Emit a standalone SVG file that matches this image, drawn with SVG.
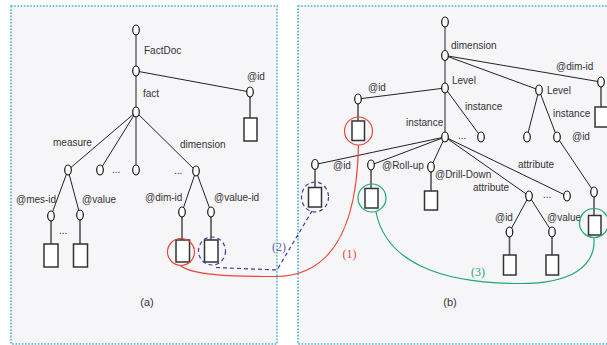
<svg xmlns="http://www.w3.org/2000/svg" width="607" height="345" viewBox="0 0 607 345">
<style>
.panel{fill:#f6f6f9;stroke:#4aaed6;stroke-width:1.6;stroke-dasharray:1.6 1.6}
.n{fill:#fff;stroke:#111;stroke-width:1.2}
.e{stroke:#222;stroke-width:1;fill:none}
.s{stroke:#555;stroke-width:1.6;fill:none}
.leaf{fill:#fff;stroke:#333;stroke-width:1.5}
.t{font-family:"Liberation Sans","Open Sans",sans-serif;font-size:10px;fill:#333}
.cap{font-family:"Liberation Sans","Open Sans",sans-serif;font-size:11px;fill:#333;text-anchor:middle}
.num{font-family:"Liberation Serif","DejaVu Serif",serif;font-size:12px;text-anchor:middle}
.red{stroke:#e8453c;stroke-width:1.2;fill:none}
.grn{stroke:#1fa874;stroke-width:1.2;fill:none}
.blu{stroke:#3c3c9e;stroke-width:1.2;fill:none;stroke-dasharray:4 3}
</style>
<rect class="panel" x="11" y="6" width="266" height="338"/>
<rect class="panel" x="298" y="6" width="320" height="338"/>

<g id="edges">
<path class="e" d="M136,30V71M136,71V112M136,71L250,92M136,112L68,170M136,112L100,170M136,112V170M136,112L196,171M68,170L51,216M68,170L80,215M196,171L182,212M196,171L211,212"/>
<path class="s" d="M250,97V118M51,221V244M80,220V244M182,217V240M211,217V240"/>
<path class="e" d="M445,22V55.5M445,55.5V88M445,88V137M445,55.5L539,90M445,55.5L601,82M445,88L358,99M445,88L481,137M539,90L527,137M539,90L557,137M557,137L594,192M445,137L315,164.5M445,137L371,165M445,137L431,167M445,137L529,196M445,137L567,196M529,196L509.5,232M529,196L552,232"/>
<path class="s" d="M601,87V107M358,104V121M315,169.5V187.5M371,170V188.5M431,172V191M594,197V215.5M509.5,237V255M552,237V255"/>
</g>

<g id="labels">
<text class="t" x="144" y="54">FactDoc</text>
<text class="t" x="247" y="80">@id</text>
<text class="t" x="143" y="97">fact</text>
<text class="t" x="53" y="146">measure</text>
<text class="t" x="180" y="148">dimension</text>
<text class="t" x="112" y="173">...</text>
<text class="t" x="174" y="174">...</text>
<text class="t" x="16" y="203">@mes-id</text>
<text class="t" x="82" y="203">@value</text>
<text class="t" x="59" y="234">...</text>
<text class="t" x="145" y="201">@dim-id</text>
<text class="t" x="214" y="201">@value-id</text>
<text class="t" x="451" y="49">dimension</text>
<text class="t" x="556" y="70">@dim-id</text>
<text class="t" x="452" y="84">Level</text>
<text class="t" x="547" y="94">Level</text>
<text class="t" x="368" y="91">@id</text>
<text class="t" x="465" y="110">instance</text>
<text class="t" x="553" y="117">instance</text>
<text class="t" x="406" y="126">instance</text>
<text class="t" x="572" y="140">@id</text>
<text class="t" x="458" y="139">...</text>
<text class="t" x="333" y="169">@id</text>
<text class="t" x="382" y="169">@Roll-up</text>
<text class="t" x="435" y="178">@Drill-Down</text>
<text class="t" x="518" y="168">attribute</text>
<text class="t" x="473" y="191">attribute</text>
<text class="t" x="543" y="198">...</text>
<text class="t" x="495" y="221">@id</text>
<text class="t" x="547" y="221">@value</text>
<text class="cap" x="147" y="306">(a)</text>
<text class="cap" x="450" y="306">(b)</text>
</g>

<g id="nodesA">
<g id="a-root"><ellipse class="n" cx="136" cy="30" rx="3.3" ry="5"/></g>
<g id="a-factdoc"><ellipse class="n" cx="136" cy="71" rx="3.3" ry="5"/></g>
<g id="a-id"><ellipse class="n" cx="250" cy="92" rx="3.3" ry="5"/></g>
<g id="a-id-val"><rect class="leaf" x="244" y="118" width="13" height="23"/></g>
<g id="a-fact"><ellipse class="n" cx="136" cy="112" rx="3.3" ry="5"/></g>
<g id="a-measure"><ellipse class="n" cx="68" cy="170" rx="3.3" ry="5"/></g>
<g id="a-x1"><ellipse class="n" cx="100" cy="170" rx="3.3" ry="5"/></g>
<g id="a-x2"><ellipse class="n" cx="136" cy="170" rx="3.3" ry="5"/></g>
<g id="a-dimension"><ellipse class="n" cx="196" cy="171" rx="3.3" ry="5"/></g>
<g id="a-mesid"><ellipse class="n" cx="51" cy="216" rx="3.3" ry="5"/></g>
<g id="a-mesid-val"><rect class="leaf" x="44" y="244" width="14" height="23"/></g>
<g id="a-value"><ellipse class="n" cx="80" cy="215" rx="3.3" ry="5"/></g>
<g id="a-value-val"><rect class="leaf" x="73.5" y="244" width="14" height="23"/></g>
<g id="a-dimid"><ellipse class="n" cx="182" cy="212" rx="3.3" ry="5"/></g>
<g id="a-dimid-val"><rect class="leaf" x="176" y="240" width="13.5" height="22"/></g>
<g id="a-valueid"><ellipse class="n" cx="211" cy="212" rx="3.3" ry="5"/></g>
<g id="a-valueid-val"><rect class="leaf" x="204.5" y="240" width="13.5" height="22"/></g>
</g>

<g id="nodesB">
<g id="b-root"><ellipse class="n" cx="445" cy="22" rx="3.3" ry="5"/></g>
<g id="b-dimension"><ellipse class="n" cx="445" cy="55.5" rx="3.3" ry="5"/></g>
<g id="b-level"><ellipse class="n" cx="445" cy="88" rx="3.3" ry="5"/></g>
<g id="b-level2"><ellipse class="n" cx="539" cy="90" rx="3.3" ry="5"/></g>
<g id="b-dimid"><ellipse class="n" cx="601" cy="82" rx="3.3" ry="5"/></g>
<g id="b-dimid-val"><rect class="leaf" x="595" y="107" width="14" height="20"/></g>
<g id="b-id"><ellipse class="n" cx="358" cy="99" rx="3.3" ry="5"/></g>
<g id="b-id-val"><rect class="leaf" x="352" y="121" width="12.5" height="19.5"/></g>
<g id="b-instance"><ellipse class="n" cx="445" cy="137" rx="3.3" ry="5"/></g>
<g id="b-instance2"><ellipse class="n" cx="481" cy="137" rx="3.3" ry="5"/></g>
<g id="b-l2-instance"><ellipse class="n" cx="527" cy="137" rx="3.3" ry="5"/></g>
<g id="b-l2-id"><ellipse class="n" cx="557" cy="137" rx="3.3" ry="5"/></g>
<g id="b-l2-leafnode"><ellipse class="n" cx="594" cy="192" rx="3.3" ry="5"/></g>
<g id="b-l2-val"><rect class="leaf" x="588.5" y="215.5" width="12.5" height="19.5"/></g>
<g id="b-inst-id"><ellipse class="n" cx="315" cy="164.5" rx="3.3" ry="5"/></g>
<g id="b-inst-id-val"><rect class="leaf" x="308.5" y="187.5" width="13" height="19.5"/></g>
<g id="b-rollup"><ellipse class="n" cx="371" cy="165" rx="3.3" ry="5"/></g>
<g id="b-rollup-val"><rect class="leaf" x="365" y="188.5" width="13" height="19.5"/></g>
<g id="b-drilldown"><ellipse class="n" cx="431" cy="167" rx="3.3" ry="5"/></g>
<g id="b-drilldown-val"><rect class="leaf" x="424.5" y="191" width="13" height="19"/></g>
<g id="b-attribute"><ellipse class="n" cx="529" cy="196" rx="3.3" ry="5"/></g>
<g id="b-attribute2"><ellipse class="n" cx="567" cy="196" rx="3.3" ry="5"/></g>
<g id="b-attr-id"><ellipse class="n" cx="509.5" cy="232" rx="3.3" ry="5"/></g>
<g id="b-attr-id-val"><rect class="leaf" x="503.5" y="255" width="12.5" height="20"/></g>
<g id="b-attr-value"><ellipse class="n" cx="552" cy="232" rx="3.3" ry="5"/></g>
<g id="b-attr-value-val"><rect class="leaf" x="546" y="255" width="12.5" height="20"/></g>
</g>

<g id="connectors">
<circle class="red" cx="181" cy="252" r="13.5"/>
<circle class="red" cx="358.5" cy="131" r="14"/>
<ellipse class="blu" cx="212" cy="251" rx="13.5" ry="14"/>
<ellipse class="blu" cx="315" cy="197" rx="13.5" ry="15"/>
<circle class="grn" cx="372" cy="198" r="14"/>
<circle class="grn" cx="594" cy="223" r="14.5"/>
<path class="red" d="M180,265.5C192,275 230,276.5 276,276.5C330,276 357,230 358.5,145"/>
<path class="blu" d="M216,267.5L277,270L312,211"/>
<path class="grn" d="M376,212C386,262 440,283.5 520,283.5C572,283.5 596,266 594,237.5"/>
<text class="num" x="349.5" y="258" fill="#e8453c">(1)</text>
<text class="num" x="279" y="251" fill="#6a5cb0">(2)</text>
<text class="num" x="478" y="276" fill="#1fa874">(3)</text>
</g>
</svg>
